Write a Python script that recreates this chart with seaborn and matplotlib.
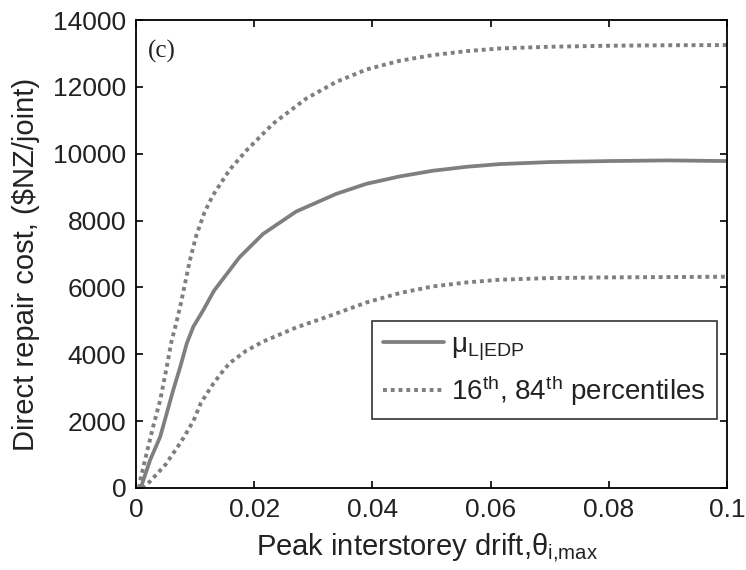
import numpy as np
import pandas as pd
import matplotlib
matplotlib.use("Agg")
import matplotlib.pyplot as plt
import seaborn as sns

# Data
mean_x = [0.0008, 0.0024, 0.0041, 0.0052, 0.0063, 0.0075, 0.0086, 0.0097, 0.0114, 0.0132,
          0.0175, 0.0215, 0.0271, 0.0339, 0.0390, 0.0446, 0.0502, 0.0560, 0.0616, 0.0700,
          0.0800, 0.0900, 0.1000]
mean_y = [0, 840, 1535, 2230, 2930, 3630, 4330, 4825, 5325, 5900,
          6900, 7600, 8270, 8800, 9100, 9320, 9490, 9610, 9690, 9750,
          9780, 9800, 9780]

upper_x = [0.0005, 0.0008, 0.0018, 0.0029, 0.0041, 0.0051, 0.0060, 0.0068, 0.0076, 0.0083,
           0.0091, 0.0102, 0.0116, 0.0130, 0.0158, 0.0187, 0.0232, 0.0288, 0.0339, 0.0390,
           0.0446, 0.0502, 0.0560, 0.0616, 0.0700, 0.0800, 0.0900, 0.1000]
upper_y = [0, 290, 1040, 1835, 2630, 3530, 4380, 4925, 5525, 6120,
           6800, 7550, 8250, 8750, 9510, 10100, 10900, 11650, 12150, 12520,
           12780, 12950, 13070, 13150, 13200, 13230, 13245, 13250]

lower_x = [0.0010, 0.0024, 0.0050, 0.0077, 0.0097, 0.0110, 0.0130, 0.0145, 0.0158, 0.0186,
           0.0215, 0.0271, 0.0328, 0.0390, 0.0446, 0.0502, 0.0560, 0.0616, 0.0700, 0.0800,
           0.0900, 0.1000]
lower_y = [0, 200, 700, 1400, 2000, 2550, 3100, 3450, 3730, 4100,
           4380, 4800, 5150, 5550, 5830, 6030, 6150, 6230, 6280, 6300,
           6310, 6320]

x_ticks = [0, 0.02, 0.04, 0.06, 0.08, 0.1]
x_tick_labels = ["0", "0.02", "0.04", "0.06", "0.08", "0.1"]
y_ticks = [0, 2000, 4000, 6000, 8000, 10000, 12000, 14000]

sns.set_theme(style="white")
plt.rcParams['font.family'] = ['Liberation Sans', 'DejaVu Sans']
plt.rcParams['mathtext.fontset'] = 'custom'
plt.rcParams['mathtext.rm'] = 'Liberation Sans'
plt.rcParams['mathtext.it'] = 'Liberation Sans'
plt.rcParams['mathtext.default'] = 'regular'

fig = plt.figure(figsize=(7.46, 5.70), dpi=100)
ax = fig.add_axes([0.1823, 0.1439, 0.7922, 0.8210])

gray = '#7f7f7f'
df_mean = pd.DataFrame({'x': mean_x, 'y': mean_y})
df_up = pd.DataFrame({'x': upper_x, 'y': upper_y})
df_lo = pd.DataFrame({'x': lower_x, 'y': lower_y})

sns.lineplot(data=df_mean, x='x', y='y', ax=ax, color=gray, linewidth=2.7,
             label=r'$\mu_{L|EDP}$', sort=False)
sns.lineplot(data=df_up, x='x', y='y', ax=ax, color=gray, linewidth=2.8,
             linestyle=(0, (1, 1)), label=r'16$^{th}$, 84$^{th}$ percentiles', sort=False)
sns.lineplot(data=df_lo, x='x', y='y', ax=ax, color=gray, linewidth=2.8,
             linestyle=(0, (1, 1)), legend=False, sort=False)

ax.set_xlim(0, 0.1)
ax.set_ylim(0, 14000)
ax.set_xticks(x_ticks)
ax.set_xticklabels(x_tick_labels)
ax.set_yticks(y_ticks)

for s in ax.spines.values():
    s.set_color('black')
    s.set_linewidth(1.3)

ax.tick_params(axis='both', which='both', direction='in', length=5, width=1.2,
               top=True, right=True, bottom=True, left=True,
               labelsize=19, colors='black', pad=7)
for lbl in ax.get_xticklabels() + ax.get_yticklabels():
    lbl.set_color('#222222')

ax.set_xlabel(r'Peak interstorey drift,$\theta_{i{,}max}$', fontsize=21, color='#222222')
ax.set_ylabel(r'Direct repair cost, (\$NZ/joint)', fontsize=21, color='#222222')
ax.xaxis.set_label_coords(0.493, -0.093)
ax.yaxis.set_label_coords(-0.162, 0.478)

ax.text(0.02, 0.957, '(c)', transform=ax.transAxes, fontsize=18,
        family=['Liberation Serif', 'DejaVu Serif'], va='top', ha='left', color='#222222')

leg = ax.legend(loc='upper right', bbox_to_anchor=(0.983, 0.357), borderaxespad=0,
                fontsize=20, frameon=True, fancybox=False, edgecolor='black',
                handlelength=2.2, handletextpad=0.25, borderpad=0.4, labelspacing=0.38)
leg.get_frame().set_linewidth(1.2)
for t in leg.get_texts():
    t.set_color('#222222')

fig.savefig('out.png', dpi=100)
